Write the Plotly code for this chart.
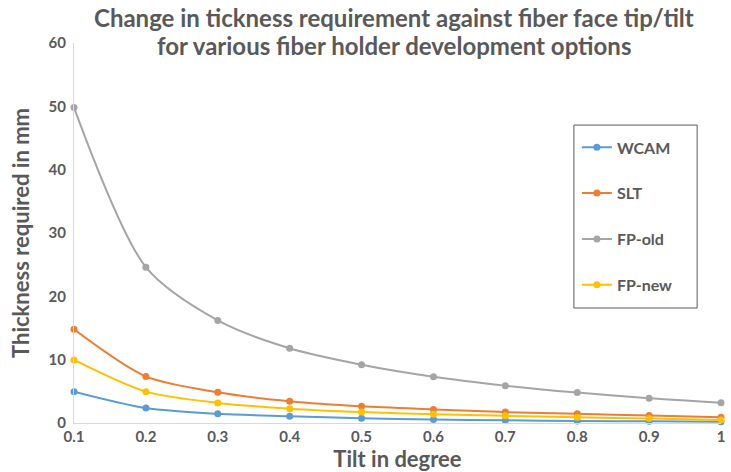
import plotly.graph_objects as go

tilt = [0.1, 0.2, 0.3, 0.4, 0.5, 0.6, 0.7, 0.8, 0.9, 1.0]
tick_labels = ["0.1", "0.2", "0.3", "0.4", "0.5", "0.6", "0.7", "0.8", "0.9", "1"]
wcam = [4.95, 2.37, 1.45, 1.08, 0.75, 0.54, 0.43, 0.32, 0.27, 0.2]
slt = [14.8, 7.35, 4.84, 3.44, 2.63, 2.15, 1.72, 1.45, 1.18, 0.91]
fp_old = [49.8, 24.6, 16.2, 11.8, 9.2, 7.3, 5.9, 4.8, 3.9, 3.2]
fp_new = [9.95, 4.95, 3.17, 2.26, 1.72, 1.4, 1.13, 0.91, 0.7, 0.48]

title_lines = [
    "Change in tickness requirement against fiber face tip/tilt",
    "for various fiber holder development options",
]

series = [
    ("WCAM", wcam, "#5B9BD5"),
    ("SLT", slt, "#ED7D31"),
    ("FP-old", fp_old, "#A5A5A5"),
    ("FP-new", fp_new, "#FFC000"),
]

TXT = "#595959"
FONT = "Lato"

L, R = 74, 6
PW = 731 - L - R


def px(xp):
    return (xp - L) / PW


fig = go.Figure()
for name, vals, col in series:
    fig.add_trace(go.Scatter(
        x=tilt, y=vals, name=name, mode="lines+markers",
        line=dict(color=col, width=2, shape="spline", smoothing=0.8),
        marker=dict(color=col, size=7),
        legendgroup=name, cliponaxis=False,
    ))

# title as two centred lines
for txt, yy in zip(title_lines, [1.0658, 0.9947]):
    fig.add_annotation(
        text="<b>" + txt + "</b>", x=px(396), y=yy, xref="paper", yref="paper",
        xanchor="center", yanchor="middle", showarrow=False,
        font=dict(size=24, color=TXT, family=FONT),
    )

# legend frame
fig.add_shape(type="rect", xref="paper", yref="paper",
              x0=px(577), x1=px(701), y0=0.3026, y1=0.784,
              line=dict(color="#595959", width=1), fillcolor="white", layer="below")

fig.update_layout(
    width=731, height=472,
    margin=dict(l=L, r=R, t=43, b=49),
    paper_bgcolor="white", plot_bgcolor="white",
    font=dict(family=FONT, color=TXT),
    legend=dict(
        x=px(580), y=0.770, xanchor="left", yanchor="top",
        borderwidth=0, bgcolor="rgba(0,0,0,0)",
        font=dict(size=16, color=TXT, family=FONT, weight="bold"),
        tracegroupgap=22,
    ),
    xaxis=dict(
        range=[0.1, 1.0], tickvals=tilt, ticktext=tick_labels,
        showgrid=False, zeroline=False, showline=True, linecolor="#D9D9D9", linewidth=1,
        ticks="", tickfont=dict(size=15, color=TXT, family=FONT, weight="bold"),
        title=dict(text="<b>Tilt in degree</b>", font=dict(size=22, color=TXT, family=FONT), standoff=4),
    ),
    yaxis=dict(
        range=[0, 60], dtick=10,
        showgrid=False, zeroline=False, showline=True, linecolor="#D9D9D9", linewidth=1,
        ticks="", ticklabelstandoff=4,
        tickfont=dict(size=15, color=TXT, family=FONT, weight="bold"),
        title=dict(text="<b>Thickness required in mm</b>", font=dict(size=22, color=TXT, family=FONT), standoff=12),
    ),
)

fig.write_html("out.html")
